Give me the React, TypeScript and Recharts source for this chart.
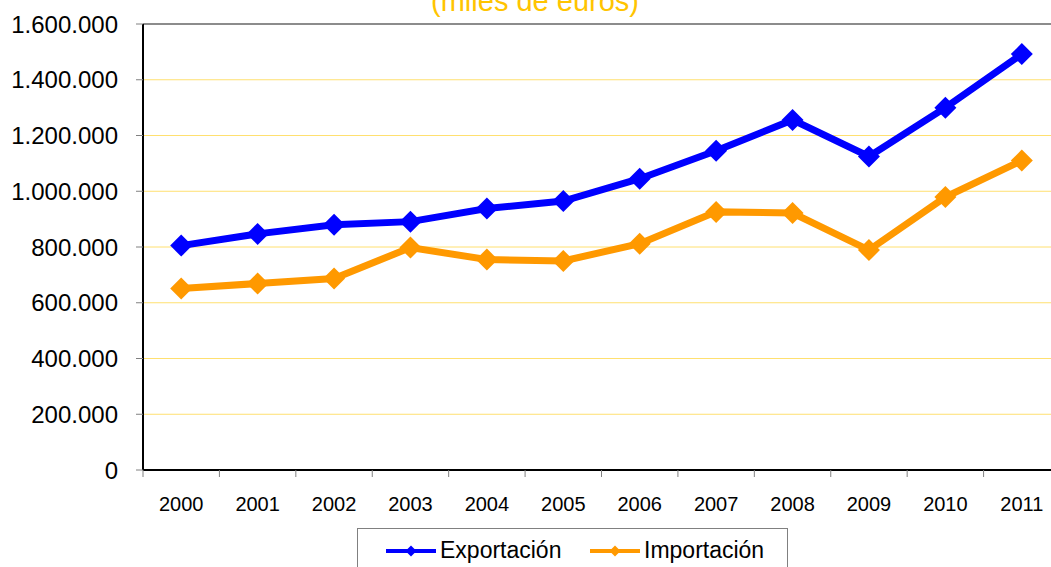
import React from 'react';
import { LineChart, Line, XAxis, YAxis, CartesianGrid, ReferenceLine } from 'recharts';

const years = ['2000', '2001', '2002', '2003', '2004', '2005', '2006', '2007', '2008', '2009', '2010', '2011'];
const exportacion = [805000, 847000, 880000, 891000, 938000, 965000, 1045000, 1145000, 1256000, 1125000, 1300000, 1492000];
const importacion = [651000, 669000, 687000, 798000, 755000, 750000, 812000, 926000, 922000, 789000, 979000, 1110000];
const yTicks = [0, 200000, 400000, 600000, 800000, 1000000, 1200000, 1400000, 1600000];
const seriesNames = ['Exportación', 'Importación'];
const seriesColors = ['#0000FF', '#FF9900'];
const titleText = '(miles de euros)';

const data = years.map((y, i) => ({ year: y, exp: exportacion[i], imp: importacion[i] }));

const FONT = '"Liberation Sans", Arial, Helvetica, sans-serif';
const CHART_W = 1070;
const CHART_H = 567;
const MARGIN = { top: 24, right: 10, left: 0, bottom: 0 };
const Y_W = 143;
const PLOT_W = CHART_W - MARGIN.right - MARGIN.left - Y_W;
const BAND = PLOT_W / years.length;

const fmt = (v: number) => String(v).replace(/\B(?=(\d{3})+(?!\d))/g, '.');

const makeDiamond = (color: string, r: number) => (props: any) => {
  const { cx, cy, index } = props;
  if (cx == null || cy == null) return <g key={`d-${index}`} />;
  return (
    <path
      key={`d-${index}`}
      d={`M${cx},${cy - r} L${cx + r},${cy} L${cx},${cy + r} L${cx - r},${cy} Z`}
      fill={color}
      stroke="none"
    />
  );
};

const XTick = (props: any) => {
  const { x, y, payload, index } = props;
  const axisY = y - 27;
  const lx = x - BAND / 2;
  return (
    <g>
      <line x1={lx} y1={axisY} x2={lx} y2={axisY + 7} stroke="#808080" strokeWidth={1} />
      {index === years.length - 1 && (
        <line x1={x + BAND / 2} y1={axisY} x2={x + BAND / 2} y2={axisY + 7} stroke="#808080" strokeWidth={1} />
      )}
      <text x={x} y={y} dy="0.71em" textAnchor="middle" fontSize={20} fill="#000" fontFamily={FONT}>
        {payload.value}
      </text>
    </g>
  );
};

export default function App() {
  return (
    <div style={{ position: 'fixed', left: 0, top: 0, width: 1051, height: 567, overflow: 'hidden', background: '#fff' }}>
      <div style={{ position: 'absolute', left: 0, top: 0 }}>
        <LineChart width={CHART_W} height={CHART_H} data={data} margin={MARGIN}>
          <CartesianGrid horizontal={true} vertical={false} stroke="#FFE070" strokeWidth={1} />
          <ReferenceLine y={1600000} stroke="#8C8C8C" strokeWidth={2} />
          <XAxis
            dataKey="year"
            scale="band"
            height={97}
            axisLine={{ stroke: '#000', strokeWidth: 2 }}
            tickLine={false}
            tickSize={7}
            tickMargin={20}
            tick={<XTick />}
            interval={0}
          />
          <YAxis
            width={Y_W}
            domain={[0, 1600000]}
            ticks={yTicks}
            tickFormatter={fmt}
            axisLine={{ stroke: '#000', strokeWidth: 2 }}
            tickLine={{ stroke: '#808080' }}
            tickSize={7}
            tickMargin={18}
            tick={{ fontSize: 24, fill: '#000', fontFamily: FONT }}
            allowDataOverflow={true}
          />
          <Line
            type="linear"
            dataKey="exp"
            name={seriesNames[0]}
            stroke={seriesColors[0]}
            strokeWidth={7}
            dot={makeDiamond(seriesColors[0], 11)}
            activeDot={false}
            isAnimationActive={false}
          />
          <Line
            type="linear"
            dataKey="imp"
            name={seriesNames[1]}
            stroke={seriesColors[1]}
            strokeWidth={7}
            dot={makeDiamond(seriesColors[1], 11)}
            activeDot={false}
            isAnimationActive={false}
          />
        </LineChart>
      </div>
      <svg width={1051} height={567} style={{ position: 'absolute', left: 0, top: 0, pointerEvents: 'none' }}>
        <text x={535} y={11} textAnchor="middle" fontSize={29} fill="#FFC400" fontFamily={FONT}>
          {titleText}
        </text>
        <rect x={357.5} y={528.5} width={430} height={60} fill="#fff" stroke="#808080" strokeWidth={1} />
        {[0, 1].map((i) => {
          const x0 = i === 0 ? 386 : 590;
          const tx = i === 0 ? 440 : 644;
          const c = seriesColors[i];
          return (
            <g key={i}>
              <line x1={x0} y1={551} x2={x0 + 50} y2={551} stroke={c} strokeWidth={4} />
              <path d={`M${x0 + 25},${545.5} L${x0 + 30.5},551 L${x0 + 25},${556.5} L${x0 + 19.5},551 Z`} fill={c} />
              <text x={tx} y={558} fontSize={23} fill="#000" fontFamily={FONT}>
                {seriesNames[i]}
              </text>
            </g>
          );
        })}
      </svg>
    </div>
  );
}
